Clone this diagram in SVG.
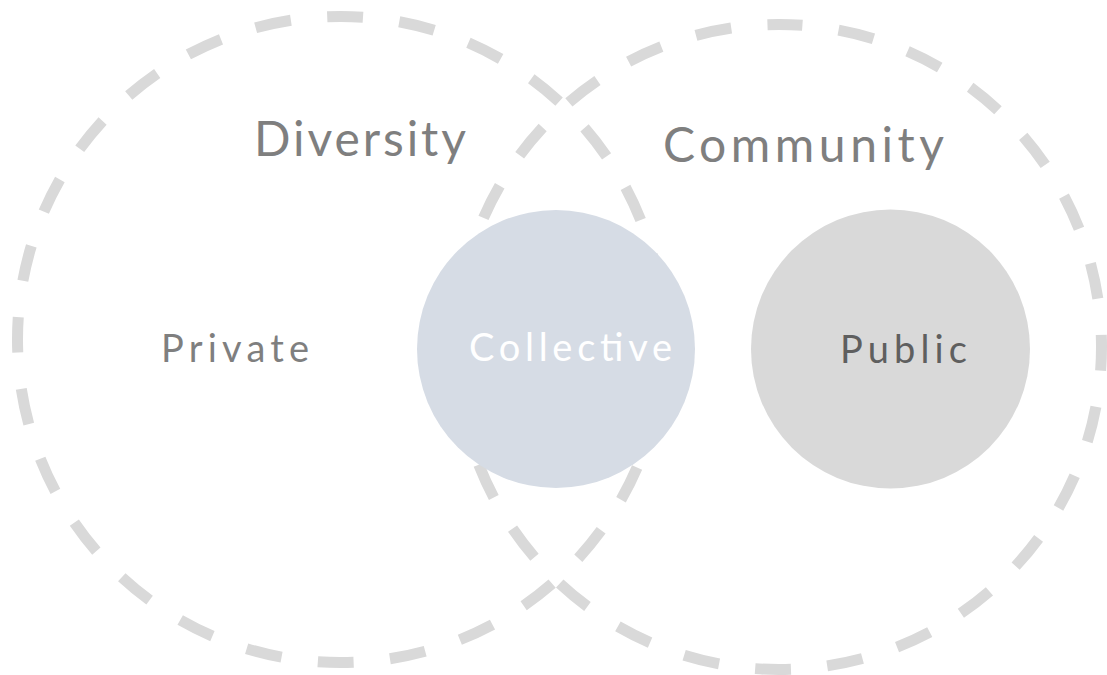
<svg xmlns="http://www.w3.org/2000/svg" width="1107" height="675" viewBox="0 0 1107 675">
  <style>
    .ring { fill: none; stroke: #d9d9d9; stroke-width: 11; }
    .big { font-family: Lato, "Open Sans", sans-serif; font-size: 48px; fill: #7f7f7f; }
    .small { font-family: Lato, "Open Sans", sans-serif; font-size: 38px; }
  </style>
  <rect width="1107" height="675" fill="#ffffff"/>
  <g id="connectors"></g>
  <g id="diversity">
    <path class="ring" d="M 17.5 339.5 A 323 323 0 1 1 663.5 339.5 A 323 323 0 1 1 17.5 339.5" stroke-dasharray="36 36.48" stroke-dashoffset="13.5"/>
    <text class="big" x="254" y="156" textLength="212" lengthAdjust="spacing">Diversity</text>
  </g>
  <g id="community">
    <path class="ring" d="M 779 24.5 A 322.5 322.5 0 1 1 779 669.5 A 322.5 322.5 0 1 1 779 24.5" stroke-dasharray="36 36.37" stroke-dashoffset="12.5"/>
    <text class="big" x="663" y="161.5" textLength="281" lengthAdjust="spacing">Community</text>
  </g>
  <g id="private">
    <text class="small" x="161" y="362" fill="#7f7f7f" textLength="148" lengthAdjust="spacing">Private</text>
  </g>
  <g id="collective">
    <circle cx="556" cy="349" r="139" fill="#d6dce5"/>
    <text class="small" x="469" y="361" fill="#ffffff" textLength="203" lengthAdjust="spacing">Collective</text>
  </g>
  <g id="public">
    <circle cx="890.5" cy="349" r="139.5" fill="#d9d9d9"/>
    <text class="small" x="840" y="363" fill="#5f5f5f" textLength="127" lengthAdjust="spacing">Public</text>
  </g>
</svg>
